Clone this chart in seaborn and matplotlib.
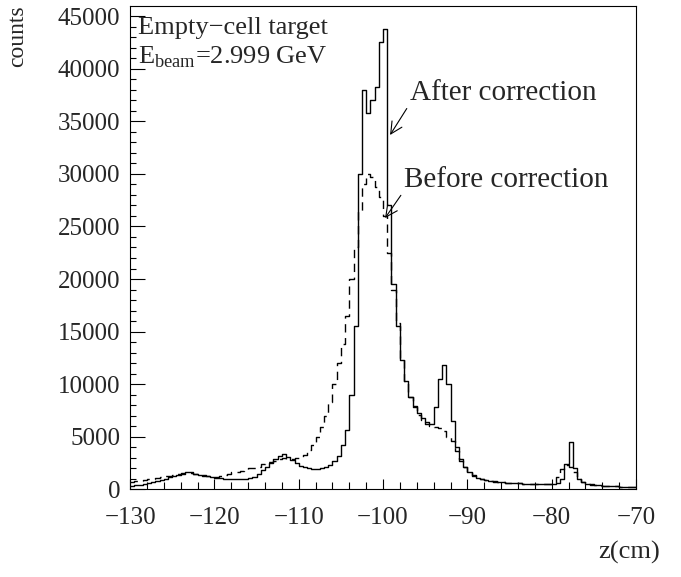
import numpy as np
import pandas as pd
import matplotlib
matplotlib.use("Agg")
import matplotlib.pyplot as plt
import seaborn as sns
from matplotlib.ticker import MultipleLocator

sns.set_style("ticks")
plt.rcParams['font.family'] = ['Liberation Serif', 'DejaVu Serif']
plt.rcParams['mathtext.fontset'] = 'custom'
plt.rcParams['mathtext.rm'] = 'Liberation Serif'

# z bins (cm), 0.5 cm wide
z_min, z_max, bin_width = -130, -70, 0.5

# counts per bin (left edge -130 ... -70.5)
before = [
    700, 750, 800, 900, 950, 1000, 1080, 1150, 1220, 1300,
    1380, 1450, 1520, 1580, 1560, 1480, 1400, 1320, 1260, 1220,
    1200, 1220, 1350, 1500, 1600, 1650, 1700, 1850, 2000, 2050,
    2150, 2450, 2550, 2600, 2700, 2850, 2950, 2900, 2900, 3000,
    3100, 3300, 3700, 4200, 5000, 5900, 7000, 8300, 10000, 12000,
    13800, 16500, 20000, 23000, 26500, 29000, 30000, 29700, 28800, 27800,
    26000, 22500, 19000, 15800, 12500, 10300, 8800, 7800, 7100, 6600,
    6200, 6000, 5900, 5800, 5500, 5000, 4600, 3600, 2700, 2100,
    1650, 1350, 1150, 1000, 900, 820, 750, 700, 660, 630,
    600, 580, 560, 540, 520, 500, 490, 480, 470, 480,
    600, 1200, 1900, 2300, 2100, 1600, 1000, 650, 520, 450,
    400, 360, 330, 310, 290, 270, 250, 240, 230, 220,
]
after = [
    300, 380, 450, 520, 600, 700, 800, 900, 1020, 1150,
    1270, 1380, 1500, 1600, 1600, 1500, 1400, 1300, 1220, 1150,
    1100, 1050, 1000, 980, 960, 950, 950, 980, 1050, 1200,
    1450, 1800, 2150, 2500, 2850, 3200, 3350, 3100, 2800, 2500,
    2250, 2100, 2000, 1950, 1950, 2000, 2100, 2300, 2650, 3200,
    4200, 5600, 9000, 15500, 30000, 38000, 35800, 37000, 38300, 42500,
    43800, 27000, 19500, 15500, 12300, 10300, 8800, 7900, 7300, 6800,
    6400, 6200, 7800, 10500, 11800, 10000, 6500, 4000, 2900, 2100,
    1600, 1300, 1100, 950, 850, 780, 720, 680, 650, 620,
    600, 580, 560, 540, 520, 500, 490, 480, 470, 460,
    470, 600, 950, 2400, 4500, 2000, 950, 650, 550, 460,
    410, 370, 340, 320, 300, 280, 260, 250, 240, 230,
]
n_bins = len(after)
centers = z_min + bin_width * (np.arange(n_bins) + 0.5)
df = pd.DataFrame({'z': centers, 'before': before, 'after': after})

fig = plt.figure(figsize=(6.81, 5.77), dpi=100)
ax = fig.add_axes([0.191, 0.152, 0.743, 0.838])

sns.histplot(data=df, x='z', weights='before', bins=n_bins, binrange=(z_min, z_max),
             element='step', fill=False, color='black', linewidth=1.0,
             linestyle=(0, (6, 4)), ax=ax)
sns.histplot(data=df, x='z', weights='after', bins=n_bins, binrange=(z_min, z_max),
             element='step', fill=False, color='black', linewidth=1.0, ax=ax)

ax.set_xlim(z_min, z_max)
ax.set_ylim(0, 1.05 * max(after))
ax.set_xlabel('')
ax.set_ylabel('')
ax.xaxis.set_major_locator(MultipleLocator(10))
ax.xaxis.set_minor_locator(MultipleLocator(2))
ax.yaxis.set_major_locator(MultipleLocator(5000))
ax.yaxis.set_minor_locator(MultipleLocator(1000))
ax.ticklabel_format(axis='y', style='plain', useOffset=False)
ax.tick_params(which='both', direction='in', top=False, right=False,
               labelsize=18, width=0.8, color='black')
ax.tick_params(axis='x', which='major', length=7, pad=13)
ax.tick_params(axis='x', which='minor', length=5)
ax.tick_params(axis='y', which='major', length=11, pad=7)
ax.tick_params(axis='y', which='minor', length=4.3)
for s in ax.spines.values():
    s.set_linewidth(0.8)
    s.set_color('black')

ax.text(0.016, 0.954, 'Empty\u2212cell target', transform=ax.transAxes,
        fontsize=19, ha='left', va='center')
ax.text(0.016, 0.893, r'E$_{\mathrm{beam}}$=2.999 GeV', transform=ax.transAxes,
        fontsize=19, ha='left', va='center')

ax.annotate('After correction', xy=(-99.17, 33700), xytext=(-96.8, 37700),
            fontsize=21, ha='left', va='center',
            arrowprops=dict(arrowstyle='->', color='black', lw=0.8,
                            shrinkA=0, shrinkB=0, relpos=(0, 0.1)))
ax.annotate('Before correction', xy=(-99.76, 25800), xytext=(-97.5, 29400),
            fontsize=21, ha='left', va='center',
            arrowprops=dict(arrowstyle='->', color='black', lw=0.8,
                            shrinkA=0, shrinkB=0, relpos=(0, 0.1)))

fig.text(0.026, 0.99, 'counts', rotation=90, ha='center', va='top', fontsize=17)
fig.text(0.969, 0.042, 'z(cm)', ha='right', va='center', fontsize=19)

fig.savefig('out.png', dpi=100)
